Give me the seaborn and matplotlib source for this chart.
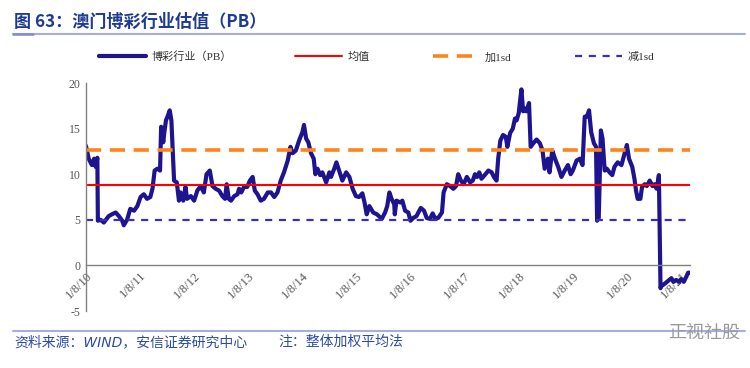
import numpy as np
import pandas as pd
import matplotlib
matplotlib.use("Agg")
import matplotlib.pyplot as plt
from matplotlib.lines import Line2D
import seaborn as sns

# decimal year positions, with PB values
years = [
    2010.58, 2010.63, 2010.69, 2010.73, 2010.76, 2010.79, 2010.80, 2010.85, 2010.91, 2011.00,
    2011.06, 2011.13, 2011.19, 2011.25, 2011.28, 2011.34, 2011.40, 2011.47, 2011.53, 2011.59,
    2011.65, 2011.71, 2011.77, 2011.81, 2011.85, 2011.90, 2011.95, 2011.97, 2012.01, 2012.03,
    2012.06, 2012.10, 2012.13, 2012.16, 2012.21, 2012.26, 2012.30, 2012.33, 2012.38, 2012.42,
    2012.45, 2012.52, 2012.58, 2012.64, 2012.70, 2012.76, 2012.81, 2012.87, 2012.92, 2012.98,
    2013.04, 2013.10, 2013.15, 2013.18, 2013.22, 2013.26, 2013.32, 2013.38, 2013.41, 2013.45,
    2013.50, 2013.56, 2013.61, 2013.66, 2013.70, 2013.75, 2013.81, 2013.87, 2013.94, 2014.00,
    2014.06, 2014.12, 2014.18, 2014.24, 2014.31, 2014.36, 2014.40, 2014.46, 2014.52, 2014.58,
    2014.61, 2014.65, 2014.69, 2014.74, 2014.79, 2014.82, 2014.86, 2014.91, 2014.95, 2015.02,
    2015.08, 2015.11, 2015.17, 2015.21, 2015.26, 2015.32, 2015.39, 2015.45, 2015.51, 2015.57,
    2015.63, 2015.69, 2015.73, 2015.77, 2015.82, 2015.89, 2015.96, 2016.05, 2016.11, 2016.15,
    2016.19, 2016.23, 2016.28, 2016.29, 2016.32, 2016.39, 2016.43, 2016.48, 2016.54, 2016.58,
    2016.63, 2016.69, 2016.77, 2016.83, 2016.88, 2016.94, 2016.99, 2017.03, 2017.09, 2017.16,
    2017.19, 2017.25, 2017.31, 2017.37, 2017.42, 2017.46, 2017.51, 2017.56, 2017.62, 2017.68,
    2017.73, 2017.77, 2017.81, 2017.85, 2017.89, 2017.95, 2018.02, 2018.08, 2018.12, 2018.17,
    2018.20, 2018.24, 2018.29, 2018.34, 2018.37, 2018.42, 2018.47, 2018.51, 2018.54, 2018.58,
    2018.60, 2018.63, 2018.66, 2018.69, 2018.72, 2018.77, 2018.80, 2018.85, 2018.91, 2018.97,
    2019.02, 2019.06, 2019.12, 2019.15, 2019.20, 2019.25, 2019.31, 2019.37, 2019.43, 2019.49,
    2019.54, 2019.58, 2019.65, 2019.71, 2019.76, 2019.80, 2019.84, 2019.88, 2019.92, 2019.97,
    2020.01, 2020.03, 2020.06, 2020.10, 2020.13, 2020.17, 2020.21, 2020.26, 2020.31, 2020.35,
    2020.41, 2020.48, 2020.54, 2020.58, 2020.62, 2020.68, 2020.72, 2020.75, 2020.78, 2020.83,
    2020.86, 2020.91, 2020.95, 2021.00, 2021.05, 2021.09, 2021.13, 2021.17, 2021.20, 2021.21,
    2021.28, 2021.34, 2021.40, 2021.44, 2021.49, 2021.54, 2021.58, 2021.63, 2021.68, 2021.71,
    2021.74,
]
pb = [
    13.1, 11.7, 11.0, 11.7, 10.8, 11.8, 4.9, 5.0, 4.7, 5.4,
    5.6, 5.8, 5.4, 4.9, 4.4, 5.0, 6.2, 6.0, 6.5, 7.5,
    7.8, 7.3, 7.5, 8.4, 10.4, 10.6, 10.4, 15.2, 13.5, 14.6,
    15.9, 16.5, 17.0, 15.9, 9.3, 9.1, 7.1, 8.0, 7.1, 8.6,
    7.3, 7.6, 7.1, 8.2, 8.7, 8.0, 10.0, 10.4, 8.7, 8.4,
    8.2, 7.6, 7.3, 8.9, 7.3, 7.1, 7.6, 7.8, 8.4, 8.0,
    8.6, 8.6, 9.3, 9.7, 8.2, 7.8, 7.1, 7.3, 8.0, 8.0,
    7.5, 8.0, 9.3, 10.2, 11.5, 13.0, 12.3, 12.6, 13.7, 14.6,
    15.4, 13.9, 13.5, 12.3, 11.7, 10.0, 10.6, 9.9, 10.2, 9.1,
    10.2, 9.7, 10.6, 11.3, 10.4, 9.3, 10.2, 9.7, 8.4, 7.6,
    7.5, 7.9, 6.9, 5.6, 6.5, 5.8, 5.6, 5.1, 5.8, 6.5,
    8.0, 7.3, 6.7, 5.6, 7.1, 6.9, 7.1, 6.0, 5.8, 4.9,
    5.2, 5.4, 6.3, 6.0, 5.2, 5.1, 5.7, 5.2, 5.2, 5.8,
    8.0, 8.9, 8.7, 8.4, 8.7, 10.0, 9.3, 8.9, 9.7, 9.1,
    9.3, 10.0, 9.7, 10.2, 9.5, 9.9, 10.4, 10.2, 9.7, 9.3,
    11.7, 13.7, 14.3, 14.1, 13.0, 14.5, 15.0, 16.1, 15.9, 16.7,
    17.8, 19.3, 16.9, 17.2, 16.9, 17.8, 13.0, 13.4, 13.8, 13.4,
    12.6, 10.6, 11.7, 10.2, 12.6, 11.7, 10.8, 9.7, 10.4, 11.0,
    10.0, 10.4, 11.5, 11.7, 11.0, 16.3, 16.3, 17.0, 14.6, 13.4,
    13.0, 4.9, 5.2, 14.8, 13.9, 10.4, 10.6, 10.2, 9.9, 10.8,
    11.3, 11.0, 12.3, 13.2, 11.7, 10.8, 9.5, 8.2, 7.3, 7.3,
    8.6, 8.9, 8.7, 9.3, 8.7, 8.9, 8.4, 9.9, -2.5, -2.3,
    -2.0, -1.7, -1.4, -1.8, -1.6, -1.8, -1.5, -1.8, -1.2, -0.8,
    -0.8,
]
mean_pb = 8.82
plus_1sd = 12.66
minus_1sd = 4.98

tick_years = list(range(2010, 2022))
tick_labels = ["1/8/%02d" % (y % 100) for y in tick_years]


def to_date(y):
    yr = int(y)
    return pd.Timestamp(yr, 1, 1) + pd.Timedelta(days=(y - yr) * 365.25)


assert len(years) == len(pb)
df = pd.DataFrame({"date": [to_date(y) for y in years], "pb": pb})

sns.set_style("white")
plt.rcParams["font.family"] = ["Liberation Serif", "Noto Sans CJK SC"]
plt.rcParams["axes.unicode_minus"] = False

fig = plt.figure(figsize=(7.5, 3.68), dpi=100)
ax = fig.add_axes([86 / 750, 1 - 311 / 368, 604 / 750, 228 / 368])

sns.lineplot(data=df, x="date", y="pb", ax=ax, color="#1E148F", lw=3,
             label="博彩行业（PB）")
ax.axhline(mean_pb, color="#FF0000", lw=1.5, label="均值")
ax.axhline(plus_1sd, color="#FF8417", lw=2.6, dashes=(4.2, 2.4), label="加1sd")
ax.axhline(minus_1sd, color="#3A30B0", lw=1.6, dashes=(3.2, 3.0), label="减1sd")

ax.set_xlim(to_date(2010.583), to_date(2021.745))
ax.set_ylim(-5, 20)
ax.set_yticks([-5, 0, 5, 10, 15, 20])
ax.set_xticks([pd.Timestamp(y, 8, 1) for y in tick_years])
ax.set_xticklabels(tick_labels)
ax.set_xlabel("")
ax.set_ylabel("")

for s in ["top", "right"]:
    ax.spines[s].set_visible(False)
ax.spines["bottom"].set_position(("data", 0))
for s in ["left", "bottom"]:
    ax.spines[s].set_color("#808080")
    ax.spines[s].set_linewidth(1.0)
ax.tick_params(axis="both", direction="in", length=3, width=0.8,
               color="#808080", labelsize=8.5, labelcolor="#555555", pad=4)
ax.tick_params(axis="x", pad=3, labelrotation=45, labelsize=9)
for lbl in ax.get_xticklabels():
    lbl.set_ha("right")
    lbl.set_va("top")
    lbl.set_rotation_mode("anchor")

handles, labels = ax.get_legend_handles_labels()
ax.get_legend().remove()
fig.legend(handles, labels, loc="center", bbox_to_anchor=(0.502, 1 - 57 / 368),
           ncol=4, frameon=False, fontsize=8, handlelength=4.2,
           handletextpad=0.5, columnspacing=5.7, labelcolor="#333333")

# title and frame lines
fig.text(14 / 750, 1 - 22 / 368, "图 63：澳门博彩行业估值（PB）", fontsize=12.3,
         fontweight="bold", color="#1F3A93", family=["Noto Sans CJK SC"],
         va="center", ha="left")
fig.add_artist(Line2D([13 / 750, 745 / 750], [1 - 34 / 368] * 2,
                      color="#A6ADE0", lw=1.5, transform=fig.transFigure))
fig.add_artist(Line2D([13 / 750, 33 / 750], [1 - 34 / 368] * 2,
                      color="#7F8BD0", lw=1.8, transform=fig.transFigure))
fig.add_artist(Line2D([13 / 750, 745 / 750], [1 - 331 / 368] * 2,
                      color="#A6ADE0", lw=1.5, transform=fig.transFigure))

fig.text(14 / 750, 1 - 342 / 368, "资料来源：WIND，安信证券研究中心", fontsize=10,
         color="#2B4BA8", style="italic", family=["DejaVu Sans", "Noto Sans CJK SC"],
         va="center", ha="left")
fig.text(278 / 750, 1 - 342 / 368, "注：整体加权平均法", fontsize=10,
         color="#2B4BA8", style="italic", family=["Noto Sans CJK SC"],
         va="center", ha="left")
fig.text(740 / 750, 1 - 333 / 368, "正视社股", fontsize=13, color="#9A9A9A",
         family=["Noto Sans CJK SC"], va="center", ha="right")

plt.savefig("out.png", dpi=100)
